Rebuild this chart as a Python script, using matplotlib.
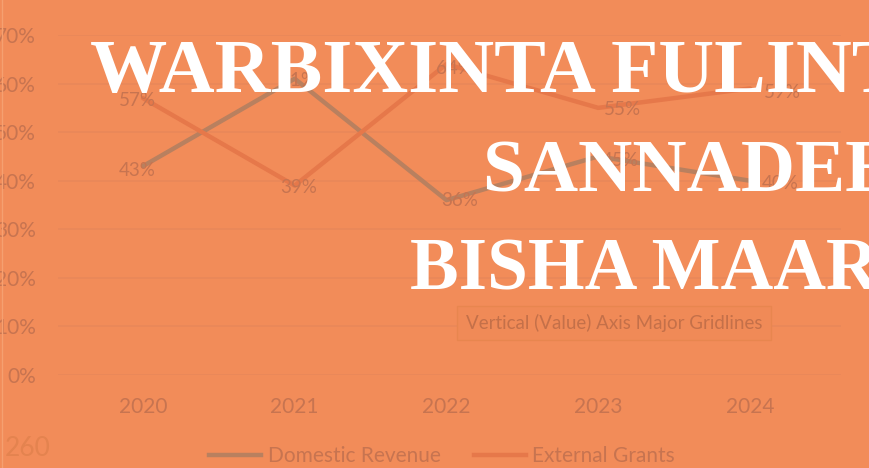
import numpy as np
import matplotlib
matplotlib.use("Agg")
import matplotlib.pyplot as plt
from matplotlib.lines import Line2D
from matplotlib.ticker import PercentFormatter

#
# Data
#
years = ["2020", "2021", "2022", "2023", "2024"]
domestic = [43, 61, 36, 45, 40]
external = [57, 39, 64, 55, 59]
title_lines = ["WARBIXINTA FULINT", "SANNADEE", "BISHA MAAR"]

# label nudges in pixels (x, y)
dom_off = [(-6, -4), (3, -2), (13, 0), (22, -4), (30, -3)]
ext_off = [(-6, -2), (4, -2), (8, -4), (24, -2), (32, -4)]

bg = "#F28C59"
txt = "#C77450"
grid = "#E9885A"
c_dom = "#B9805F"
c_ext = "#E6784A"

plt.rcParams['font.family'] = ['Lato', 'DejaVu Sans']

fig = plt.figure(figsize=(8.69, 4.68), dpi=100, facecolor=bg)
W, H = 869, 468
ax = fig.add_axes([58 / W, (H - 375) / H, 783 / W, 340 / H])
ax.set_facecolor(bg)

x = np.arange(len(years))
ax.plot(x, np.array(domestic) / 100, color=c_dom, lw=3.2, solid_capstyle='round', zorder=3)
ax.plot(x, np.array(external) / 100, color=c_ext, lw=3.2, solid_capstyle='round', zorder=3)

for i in range(len(years)):
    ax.annotate(f"{domestic[i]}%", (x[i], domestic[i] / 100), xytext=(dom_off[i][0] * 0.72, dom_off[i][1] * 0.72),
                textcoords='offset points', ha='center', va='center', fontsize=13.5, color=txt, zorder=4)
    ax.annotate(f"{external[i]}%", (x[i], external[i] / 100), xytext=(ext_off[i][0] * 0.72, ext_off[i][1] * 0.72),
                textcoords='offset points', ha='center', va='center', fontsize=13.5, color=txt, zorder=4)

ax.set_xlim(-0.56, 4.6)
ax.set_ylim(0, 0.7)
ax.set_yticks(np.arange(0, 0.71, 0.1))
ax.yaxis.set_major_formatter(PercentFormatter(1.0, decimals=0))
ax.set_xticks(x)
ax.set_xticklabels(years)
ax.tick_params(axis='both', length=0, labelsize=15, colors=txt)
ax.tick_params(axis='y', pad=16)
ax.tick_params(axis='x', pad=16)
ax.grid(axis='y', color=grid, lw=1.2)
for s in ax.spines.values():
    s.set_visible(False)

# legend
handles = [Line2D([], [], color=c_dom, lw=3.2), Line2D([], [], color=c_ext, lw=3.2)]
fig.legend(handles, ["Domestic Revenue", "External Grants"], loc='center', bbox_to_anchor=(442 / W, 1 - 456 / H),
           ncol=2, frameon=False, fontsize=15, labelcolor=txt, handlelength=2.5, handletextpad=0.3,
           columnspacing=1.6)

# faint leftovers of the screenshot
fig.text(5 / W, 1 - 448 / H, "260", fontsize=19, color="#E4834F", va='center', ha='left')
fig.add_artist(Line2D([2 / W, 2 / W], [0, 1], transform=fig.transFigure, color="#F5A070", lw=1))
fig.text(614 / W, 1 - 323 / H, "Vertical (Value) Axis Major Gridlines", fontsize=13.5, color="#C47049",
         ha='center', va='center',
         bbox=dict(boxstyle='square,pad=0.45', facecolor="#F08A57", edgecolor="#E8864F", lw=1))

# big white title; each line sized so a known run of letters spans the width seen in the picture
tfont = dict(family='Liberation Serif', weight='bold', color='white')
fits = [("WARBIXINTA", 505, 90, 92), ("SANNADE", 362, 482, 192), ("BISHA MAA", 415, 410, 290)]
fig.canvas.draw()
for line, (probe_txt, width, x0, y0) in zip(title_lines, fits):
    probe = fig.text(0, 0, probe_txt, fontsize=10, **tfont)
    fig.canvas.draw()
    w10 = probe.get_window_extent().width
    probe.remove()
    fig.text(x0 / W, 1 - y0 / H, line, fontsize=10 * width / w10, va='baseline', ha='left', **tfont)

fig.savefig("out.png", dpi=100, facecolor=bg)
